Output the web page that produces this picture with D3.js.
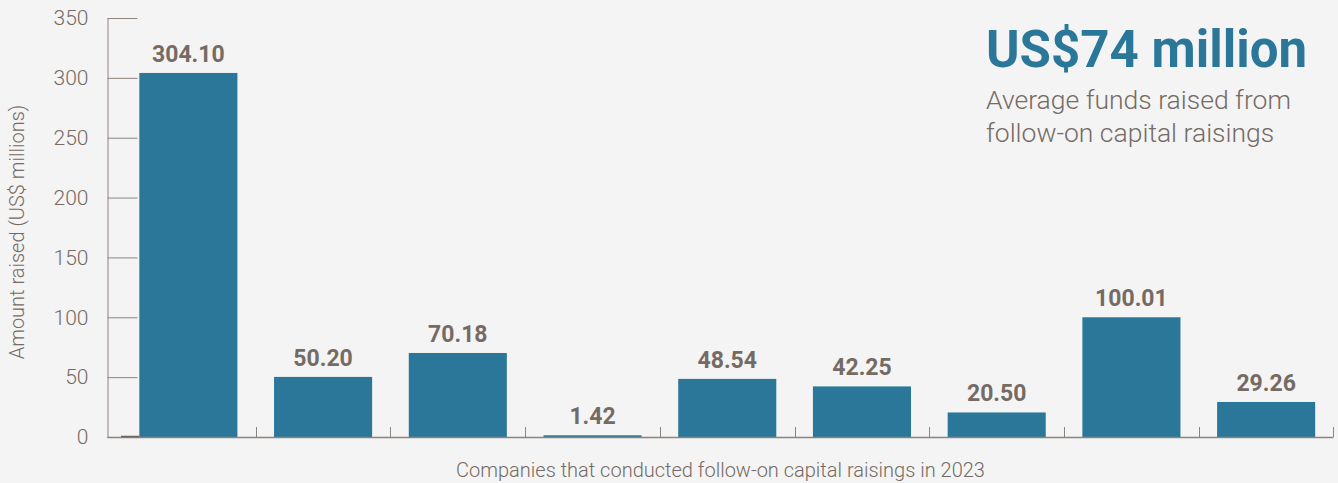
<!DOCTYPE html>
<html>
<head>
<meta charset="utf-8">
<script src="https://cdn.jsdelivr.net/npm/d3@7"></script>
<style>
  html, body { margin: 0; padding: 0; background: #f4f4f4; }
  svg { display: block; }
  text { font-family: Roboto, "Liberation Sans", Arial, sans-serif; }
</style>
</head>
<body>
<svg id="chart" width="1338" height="483"></svg>
<script>
// Follow-on capital raisings, 2023 (US$ millions)
const companies = ["Company A", "Company B", "Company C", "Company D", "Company E",
                   "Company F", "Company G", "Company H", "Company I"];
const amounts = [304.10, 50.20, 70.18, 1.42, 48.54, 42.25, 20.50, 100.01, 29.26];
const yTicks = [0, 50, 100, 150, 200, 250, 300, 350];
const headline = "US$74 million";
const subLines = ["Average funds raised from", "follow-on capital raisings"];
const xTitle = "Companies that conducted follow-on capital raisings in 2023";
const yTitle = "Amount raised (US$ millions)";

const barColor = "#2a7799";
const textColor = "#756b64";
const axisColor = "#8d847e";

const svg = d3.select("#chart");
const plotLeft = 107.5, plotRight = 1333.5, plotTop = 18, plotBottom = 437;
const bandStart = 121;

const y = d3.scaleLinear().domain([0, 350]).range([plotBottom, plotTop]);
const x = d3.scaleBand().domain(companies).range([bandStart, plotRight]).paddingInner(0.272).paddingOuter(0.136);

// y axis with ticks reaching into the plot
const yAxis = svg.append("g")
  .attr("transform", `translate(${plotLeft},0)`)
  .call(d3.axisLeft(y).tickValues(yTicks).tickSizeInner(-30).tickSizeOuter(0).tickPadding(19));
yAxis.select(".domain").attr("stroke", axisColor).attr("stroke-width", 1);
yAxis.selectAll(".tick line").attr("stroke", axisColor).attr("stroke-width", 1);
yAxis.selectAll(".tick text")
  .attr("fill", textColor).attr("font-size", 21).attr("font-weight", 300)
  .attr("font-family", "Roboto, 'Liberation Sans', Arial, sans-serif");

// bars
svg.append("g").selectAll("rect").data(amounts).join("rect")
  .attr("x", (d, i) => x(companies[i]))
  .attr("y", d => y(d))
  .attr("width", x.bandwidth())
  .attr("height", d => y(0) - y(d))
  .attr("fill", barColor);

// value labels
svg.append("g").selectAll("text").data(amounts).join("text")
  .attr("x", (d, i) => x(companies[i]) + x.bandwidth() / 2)
  .attr("y", d => y(d) - 11)
  .attr("text-anchor", "middle")
  .attr("font-size", 23).attr("font-weight", 700)
  .attr("fill", textColor)
  .text(d => d.toFixed(2));

// x baseline and category separators
const xAxis = svg.append("g");
xAxis.append("line")
  .attr("x1", plotLeft).attr("x2", plotRight)
  .attr("y1", y(0) + 0.5).attr("y2", y(0) + 0.5)
  .attr("stroke", axisColor).attr("stroke-width", 1.5);
xAxis.append("line")
  .attr("x1", bandStart).attr("x2", x(companies[0]))
  .attr("y1", y(0) - 0.5).attr("y2", y(0) - 0.5)
  .attr("stroke", "#6e655f").attr("stroke-width", 1.5);
const seps = companies.map(c => x(c) + x.bandwidth() + x.step() * x.paddingInner() / 2);
seps[seps.length - 1] = plotRight - 0.5;
xAxis.selectAll("line.sep").data(seps).join("line").attr("class", "sep")
  .attr("x1", d => Math.round(d) + 0.5).attr("x2", d => Math.round(d) + 0.5)
  .attr("y1", y(0)).attr("y2", y(0) - 10)
  .attr("stroke", axisColor).attr("stroke-width", 1);

// axis titles
svg.append("text")
  .attr("x", (plotLeft + plotRight) / 2).attr("y", 477)
  .attr("text-anchor", "middle")
  .attr("font-size", 20).attr("font-weight", 300)
  .attr("fill", textColor)
  .text(xTitle);

svg.append("text")
  .attr("transform", `translate(24,${232}) rotate(-90)`)
  .attr("text-anchor", "middle")
  .attr("font-size", 20).attr("font-weight", 300)
  .attr("fill", textColor)
  .text(yTitle);

// headline callout
svg.append("text")
  .attr("x", 986).attr("y", 67)
  .attr("font-size", 51).attr("font-weight", 700)
  .attr("fill", barColor)
  .text(headline);

svg.append("g").selectAll("text").data(subLines).join("text")
  .attr("x", 986).attr("y", (d, i) => 109 + i * 33)
  .attr("font-size", 26.5).attr("font-weight", 300)
  .attr("fill", textColor)
  .text(d => d);
</script>
</body>
</html>
